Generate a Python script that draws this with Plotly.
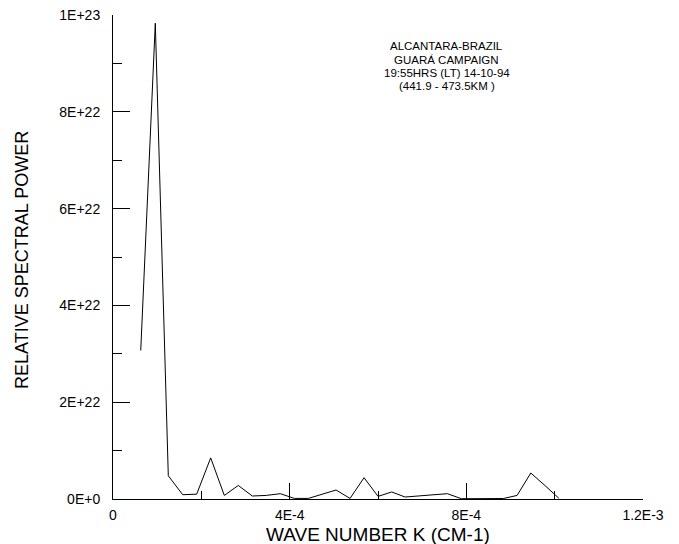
import plotly.graph_objects as go

# Wave number K (cm-1)
wave_number = [
    6.28e-5, 9.58e-5, 1.252e-4, 1.578e-4, 1.895e-4, 2.212e-4, 2.52e-4, 2.837e-4,
    3.154e-4, 3.471e-4, 3.789e-4, 4.106e-4, 4.423e-4, 4.74e-4, 5.05e-4, 5.367e-4,
    5.684e-4, 6.001e-4, 6.311e-4, 6.613e-4, 6.93e-4, 7.247e-4, 7.571e-4, 7.888e-4,
    8.205e-4, 8.522e-4, 8.839e-4, 9.149e-4, 9.46e-4, 9.784e-4, 1.0094e-3,
]
# Relative spectral power
spectral_power = [
    3.07e22, 9.83e22, 4.8e21, 8.9e20, 1.0e21, 8.5e21, 7.4e20, 2.8e21,
    6.2e20, 7.4e20, 1.1e21, 1.2e20, 1.2e20, 1.0e21, 1.86e21, 1.2e20,
    4.4e21, 5.4e20, 1.45e21, 4.1e20, 6.2e20, 8.5e20, 1.1e21, 6e19,
    5e19, 5e19, 1e20, 7.4e20, 5.37e21, 2.75e21, 1.6e20,
]

x_tick_vals = [0, 4e-4, 8e-4, 1.2e-3]
x_tick_text = ["0", "4E-4", "8E-4", "1.2E-3"]
x_minor_vals = [2e-4, 6e-4, 1.0e-3]
y_tick_vals = [0, 2e22, 4e22, 6e22, 8e22, 1e23]
y_tick_text = ["0E+0", "2E+22", "4E+22", "6E+22", "8E+22", "1E+23"]
y_minor_vals = [1e22, 3e22, 5e22, 7e22, 9e22]

info_lines = [
    "ALCANTARA-BRAZIL",
    "GUARÁ CAMPAIGN",
    "19:55HRS (LT) 14-10-94",
    "(441.9 - 473.5KM )",
]

FONT = "Liberation Sans, Arial, sans-serif"

fig = go.Figure()
fig.add_trace(go.Scatter(
    x=wave_number, y=spectral_power, mode="lines",
    line=dict(color="black", width=1), showlegend=False,
))

fig.update_layout(
    width=679, height=544,
    margin=dict(l=105, r=44, t=7, b=53),
    paper_bgcolor="white", plot_bgcolor="white",
    font=dict(family=FONT, color="black", size=14),
    xaxis=dict(
        range=[0, 1.2e-3], showgrid=False, zeroline=False, automargin=False,
        showline=True, linecolor="black", linewidth=1,
        tickmode="array", tickvals=x_tick_vals, ticktext=x_tick_text,
        ticks="inside", ticklen=16, tickcolor="black", tickwidth=1,
        tickfont=dict(size=14, family=FONT),
        ticklabelstandoff=3, ticklabeloverflow="allow",
        minor=dict(tickmode="array", tickvals=x_minor_vals, ticks="inside",
                   ticklen=8, tickcolor="black", tickwidth=1, showgrid=False),
    ),
    yaxis=dict(
        range=[0, 1e23], showgrid=False, zeroline=False, automargin=False,
        showline=True, linecolor="black", linewidth=1,
        tickmode="array", tickvals=y_tick_vals, ticktext=y_tick_text,
        ticks="inside", ticklen=17, tickcolor="black", tickwidth=1,
        tickfont=dict(size=14, family=FONT),
        ticklabelstandoff=9, ticklabeloverflow="allow",
        minor=dict(tickmode="array", tickvals=y_minor_vals, ticks="inside",
                   ticklen=9, tickcolor="black", tickwidth=1, showgrid=False),
    ),
)

# axis titles
fig.add_annotation(
    text="WAVE NUMBER K (CM-1)", xref="paper", yref="paper",
    x=0.5, y=0, yshift=-35, xanchor="center", yanchor="middle",
    showarrow=False, font=dict(size=19, family=FONT),
)
fig.add_annotation(
    text="RELATIVE SPECTRAL POWER", xref="paper", yref="paper",
    x=0, y=0.494, xshift=-91, xanchor="center", yanchor="middle",
    textangle=-90, showarrow=False, font=dict(size=18, family=FONT),
)

# info block
for i, line in enumerate(info_lines):
    fig.add_annotation(
        text=line, xref="paper", yref="paper",
        x=(446.7 - 113) / 530, y=1, yshift=-(31.3 + 13.3 * i),
        xanchor="center", yanchor="middle", showarrow=False,
        font=dict(size=11.5, family=FONT),
    )

fig.write_html("out.html")
